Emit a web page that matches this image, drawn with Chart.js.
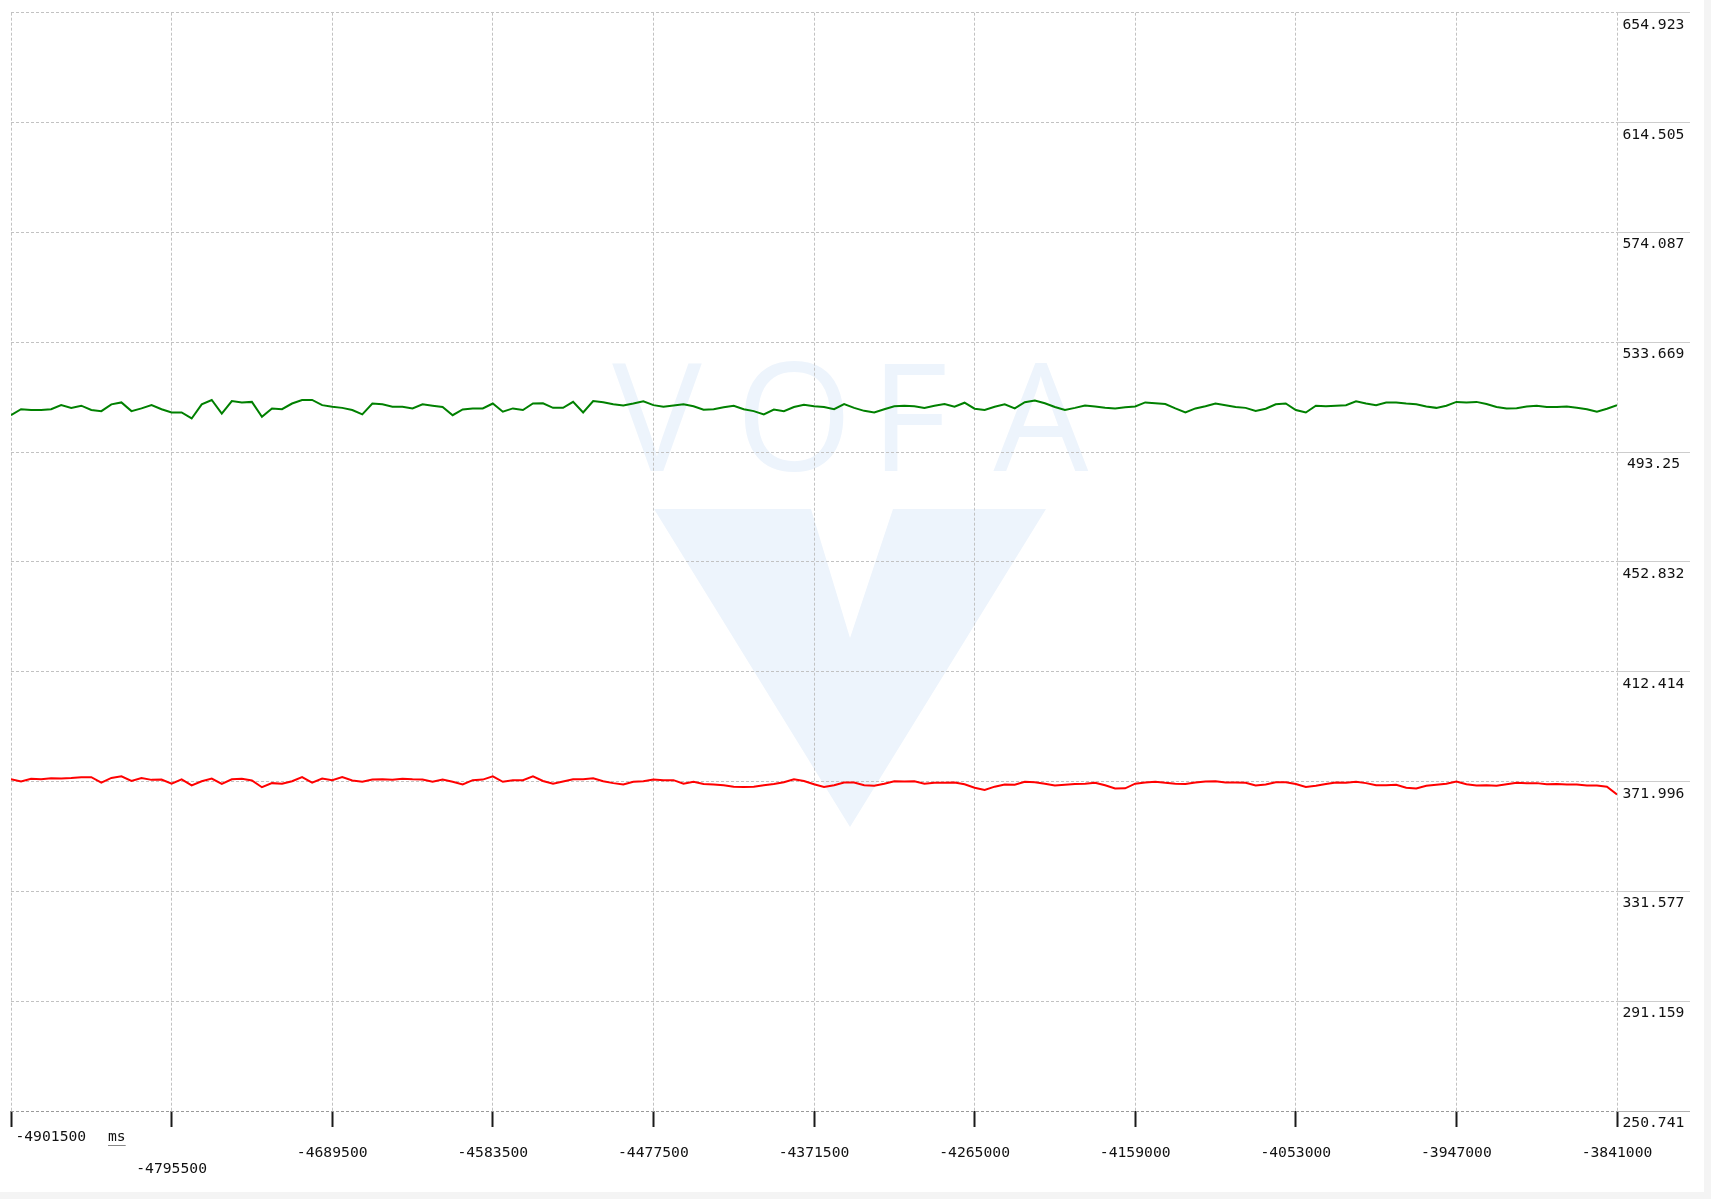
<!DOCTYPE html>
<html>
<head>
<meta charset="utf-8">
<script src="https://cdn.jsdelivr.net/npm/chart.js@4"></script>
<style>
  html, body { margin: 0; padding: 0; background: #f4f4f4; }
  #wrap { position: absolute; left: 0; top: 0; width: 1704px; height: 1192px; background: #fff; }
  #edge { position: absolute; left: 1711px; top: 0; width: 7px; height: 1199px; background: #fff; }
</style>
</head>
<body>
<div id="wrap"><canvas id="plot" width="1704" height="1192"></canvas></div>
<div id="edge"></div>
<script>
// time axis (ms), samples are evenly spaced
const sampleStartMs = -4901500;
const sampleStepMs = 6628.125;

const xTickValues = [-4901500, -4795450, -4689400, -4583350, -4477300, -4371250,
  -4265200, -4159150, -4053100, -3947050, -3841000];
const xTickLabels = ['-4901500', '-4795500', '-4689500', '-4583500', '-4477500', '-4371500',
  '-4265000', '-4159000', '-4053000', '-3947000', '-3841000'];

const yTickValues = [654.923, 614.505, 574.087, 533.669, 493.25, 452.832,
  412.414, 371.996, 331.577, 291.159, 250.741];
const yTickLabels = ['654.923', '614.505', '574.087', '533.669', '493.25', '452.832',
  '412.414', '371.996', '331.577', '291.159', '250.741'];

const greenValues = [
  506.8, 509.0, 508.7, 508.7, 509.0, 510.5, 509.5, 510.3, 508.7, 508.3,
  510.8, 511.5, 508.3, 509.3, 510.5, 509.0, 507.8, 507.8, 505.6, 510.8,
  512.4, 507.4, 512.0, 511.5, 511.7, 506.2, 509.3, 509.0, 511.1, 512.4,
  512.4, 510.5, 509.9, 509.5, 508.7, 507.1, 511.1, 510.8, 509.9, 509.9,
  509.3, 510.8, 510.3, 509.8, 506.8, 508.9, 509.3, 509.3, 511.1, 508.1,
  509.3, 508.7, 511.1, 511.2, 509.5, 509.5, 511.7, 507.8, 512.0, 511.6,
  510.8, 510.4, 511.1, 511.9, 510.5, 509.9, 510.4, 510.8, 510.1, 508.8,
  509.0, 509.7, 510.3, 509.0, 508.3, 507.1, 508.9, 508.3, 509.8, 510.6,
  510.1, 509.8, 509.0, 510.9, 509.5, 508.4, 507.8, 509.0, 510.1, 510.3,
  510.1, 509.5, 510.3, 510.9, 509.9, 511.4, 509.2, 508.7, 509.9, 510.8,
  509.3, 511.6, 512.2, 511.2, 509.8, 508.7, 509.5, 510.4, 510.0, 509.5,
  509.3, 509.7, 510.0, 511.5, 511.2, 510.9, 509.3, 507.8, 509.3, 510.1,
  511.1, 510.5, 509.8, 509.5, 508.4, 509.2, 510.8, 511.1, 508.7, 507.8,
  510.3, 510.1, 510.3, 510.5, 511.9, 511.1, 510.5, 511.5, 511.5, 511.1,
  510.8, 510.0, 509.5, 510.3, 511.7, 511.5, 511.7, 510.9, 509.8, 509.3,
  509.4, 510.0, 510.3, 509.8, 509.8, 510.0, 509.5, 509.0, 508.1, 509.2,
  510.5
];

const redValues = [
  372.8, 372.0, 373.0, 372.8, 373.2, 373.1, 373.3, 373.6, 373.6, 371.6,
  373.3, 373.9, 372.2, 373.3, 372.6, 372.7, 371.2, 372.8, 370.6, 372.1,
  373.1, 371.1, 372.8, 373.0, 372.4, 369.9, 371.4, 371.2, 372.1, 373.6,
  371.6, 373.1, 372.5, 373.6, 372.4, 371.9, 372.7, 372.8, 372.6, 373.0,
  372.8, 372.7, 371.9, 372.7, 371.9, 370.9, 372.5, 372.7, 373.9, 371.9,
  372.5, 372.5, 373.9, 372.2, 371.2, 372.0, 372.8, 372.8, 373.2, 372.1,
  371.4, 370.9, 371.9, 372.1, 372.7, 372.5, 372.5, 371.2, 371.9, 371.1,
  370.9, 370.6, 370.1, 370.0, 370.1, 370.6, 371.1, 371.7, 372.8, 372.2,
  371.0, 370.0, 370.6, 371.6, 371.6, 370.6, 370.4, 371.2, 372.1, 372.0,
  372.1, 371.2, 371.5, 371.5, 371.6, 371.0, 369.7, 368.9, 370.1, 370.9,
  370.8, 371.9, 371.7, 371.2, 370.5, 370.8, 371.1, 371.2, 371.5, 370.6,
  369.4, 369.5, 371.2, 371.6, 371.9, 371.5, 371.2, 371.1, 371.6, 372.0,
  372.1, 371.6, 371.6, 371.5, 370.5, 370.9, 371.7, 371.7, 371.1, 370.0,
  370.4, 371.1, 371.6, 371.5, 371.9, 371.4, 370.6, 370.6, 370.8, 369.7,
  369.4, 370.4, 370.8, 371.2, 372.0, 371.0, 370.5, 370.6, 370.4, 371.0,
  371.5, 371.4, 371.4, 371.0, 371.1, 370.9, 370.9, 370.5, 370.5, 370.1,
  367.2
];

const monoFont = 'DejaVu Sans Mono';

function toPoints(values) {
  return values.map((v, i) => ({ x: sampleStartMs + i * sampleStepMs, y: v }));
}

// faint VOFA watermark behind the grid
const watermark = {
  id: 'watermark',
  beforeDraw(chart) {
    const ctx = chart.ctx;
    ctx.save();
    ctx.fillStyle = '#edf4fc';
    ctx.beginPath();
    ctx.moveTo(654, 509); ctx.lineTo(1046, 509); ctx.lineTo(850, 827); ctx.closePath();
    ctx.moveTo(811, 509); ctx.lineTo(850, 638); ctx.lineTo(893, 509); ctx.closePath();
    ctx.fill('evenodd');
    ctx.font = '150px "Open Sans"';
    ctx.textAlign = 'center';
    ctx.textBaseline = 'alphabetic';
    [['V', 657], ['O', 794], ['F', 909], ['A', 1041]].forEach(([ch, x]) => ctx.fillText(ch, x, 471));
    ctx.restore();
  }
};

// "ms" unit next to the first time label
const unitLabel = {
  id: 'unitLabel',
  afterDraw(chart) {
    const ctx = chart.ctx;
    const xs = chart.scales.x;
    const x = xs.getPixelForValue(xTickValues[0]) + 97;
    const y = xs.top + 26;
    ctx.save();
    ctx.font = '14.7px "' + monoFont + '"';
    ctx.fillStyle = '#111';
    ctx.textBaseline = 'middle';
    ctx.fillText('ms', x, y);
    ctx.strokeStyle = '#888';
    ctx.lineWidth = 1;
    ctx.beginPath();
    ctx.moveTo(x, y + 8.5);
    ctx.lineTo(x + 17.7, y + 8.5);
    ctx.stroke();
    ctx.restore();
  }
};

new Chart(document.getElementById('plot'), {
  type: 'line',
  data: {
    datasets: [
      { data: toPoints(greenValues), borderColor: '#008000', borderWidth: 2, pointRadius: 0, tension: 0, fill: false },
      { data: toPoints(redValues), borderColor: '#ff0000', borderWidth: 2, pointRadius: 0, tension: 0, fill: false }
    ]
  },
  options: {
    responsive: false,
    animation: false,
    events: [],
    layout: { padding: { left: 11, top: 12.7, right: 0, bottom: 0 } },
    plugins: { legend: { display: false }, tooltip: { enabled: false } },
    scales: {
      x: {
        type: 'linear',
        position: 'bottom',
        min: -4901500,
        max: -3841000,
        afterBuildTicks: s => { s.ticks = xTickValues.map(v => ({ value: v })); },
        afterFit: s => { s.height = 81; s.paddingLeft = 0; s.paddingRight = 0; },
        grid: { color: '#c2c2c2', lineWidth: 1, tickLength: 16, tickColor: '#1a1a1a', tickWidth: 2, tickBorderDash: [] },
        border: { display: false, dash: [3, 2] },
        ticks: {
          autoSkip: false,
          maxRotation: 0,
          minRotation: 0,
          padding: 2,
          color: '#111',
          font: { family: monoFont, size: 14.7, lineHeight: '16px' },
          callback: (value) => {
            const i = xTickValues.indexOf(value);
            const label = xTickLabels[i];
            if (i === 0) return ' '.repeat(9) + label;
            if (i === 1) return ['', '', label];
            return ['', label];
          }
        }
      },
      y: {
        type: 'linear',
        position: 'right',
        min: 250.741,
        max: 654.923,
        afterBuildTicks: s => { s.ticks = yTickValues.map(v => ({ value: v })); },
        afterFit: s => { s.width = 87; s.paddingTop = 0; s.paddingBottom = 0; },
        grid: {
          color: c => (c.tick && c.tick.value === 250.741 ? '#9a9a9a' : '#c2c2c2'),
          lineWidth: 1,
          tickLength: 73,
          tickColor: c => (c.tick && c.tick.value === 250.741 ? '#b0b0b0' : '#cdcdcd'),
          tickWidth: 1,
          tickBorderDash: []
        },
        border: { display: false, dash: [3, 2] },
        ticks: {
          autoSkip: false,
          crossAlign: 'center',
          padding: -67.5,
          color: '#111',
          font: { family: monoFont, size: 14.7, lineHeight: '24.6px' },
          callback: (value) => ['', yTickLabels[yTickValues.indexOf(value)]]
        }
      }
    }
  },
  plugins: [watermark, unitLabel]
});
</script>
</body>
</html>
